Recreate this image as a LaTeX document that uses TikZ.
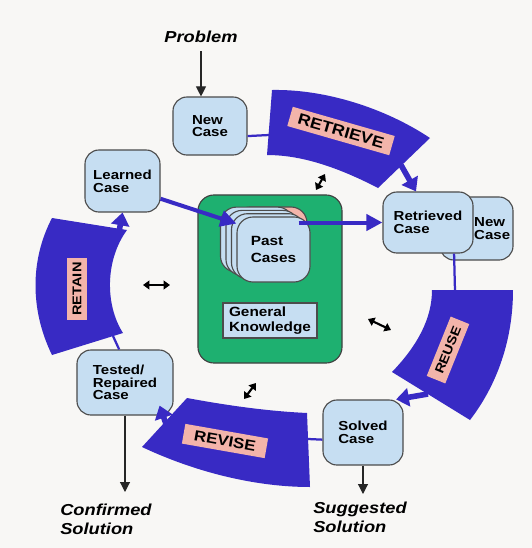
\documentclass[tikz,border=0pt]{standalone}
\usepackage{fontspec}
\setmainfont{Liberation Sans}[FakeStretch=1.15]
\usetikzlibrary{arrows.meta}

\definecolor{paper}{RGB}{248,247,245}
\definecolor{bandblue}{RGB}{56,42,196}
\definecolor{caseblue}{RGB}{198,222,242}
\definecolor{kbgreen}{RGB}{30,176,112}
\definecolor{labelpink}{RGB}{243,180,170}

\begin{document}
\begin{tikzpicture}[
  x=0.025cm, y=-0.025cm,
  casebox/.style={draw=black!70, line width=0.8pt, fill=caseblue, rounded corners=0.35cm,
    align=left, inner sep=0pt, font=\fontsize{9.3}{9}\selectfont\bfseries},
  band/.style={fill=bandblue},
  bandline/.style={draw=bandblue, line width=1.6pt},
  bandarrow/.style={bandblue, line width=0.14cm, -{Triangle[length=0.32cm,width=0.45cm]}},
  blueline/.style={bandblue, line width=0.1cm, -{Triangle[length=0.4cm,width=0.4cm]}},
  steplabel/.style={fill=labelpink, inner sep=1pt, minimum height=0.5cm, font=\bfseries},
  outtext/.style={align=left, inner sep=0pt, font=\fontsize{11.3}{13.5}\selectfont\bfseries\itshape},
  outarrow/.style={black!85, line width=0.8pt, -{Triangle[length=0.25cm,width=0.25cm]}},
  twoway/.style={line width=1.5pt, {Triangle[length=0.16cm,width=0.22cm]}-{Triangle[length=0.16cm,width=0.22cm]}}
]
  \fill[paper] (0,0) rectangle (532,548);

  % the four steps of the cycle
  \fill[band] (272,90) .. controls (325,89) and (385,108) .. (430,138) -- (378,188)
    .. controls (330,163) and (295,155) .. (267,155) -- cycle;
  \fill[band] (432,290) -- (513,290) .. controls (513,340) and (497,385) .. (470,420) -- (392,372)
    .. controls (418,345) and (432,318) .. (432,290) -- cycle;
  \fill[band] (307,413) -- (310,487) .. controls (255,487) and (195,472) .. (142,447) -- (187,398)
    .. controls (225,405) and (265,411) .. (307,413) -- cycle;
  \fill[band] (52,355) .. controls (30,310) and (30,260) .. (52,218) -- (127,230)
    .. controls (105,260) and (105,305) .. (123,333) -- cycle;

  % knowledge base
  \node[draw=black!75, line width=0.8pt, fill=kbgreen, rounded corners=0.4cm,
    minimum width=3.6cm, minimum height=4.2cm] (know) at (270,279) {};
  \node[casebox, fill=labelpink, rounded corners=0.4cm, minimum width=1.825cm, minimum height=1.625cm]
    (past4) at (270.5,239.5) {};
  \foreach \k in {3,2,1} {
    \node[casebox, rounded corners=0.4cm, minimum width=1.825cm, minimum height=1.625cm]
      (past\k) at (273.5-5.5*\k, 249.5-3.3*\k) {};
  }
  \node[casebox, rounded corners=0.4cm, minimum width=1.825cm, minimum height=1.625cm,
    font=\fontsize{9.5}{12}\selectfont\bfseries] (past) at (273.5,249.5) {Past\\Cases};
  \node[draw=black!70, line width=0.8pt, fill=caseblue, minimum width=2.35cm, minimum height=0.875cm,
    align=left, inner sep=0pt, font=\fontsize{9.5}{10.5}\selectfont\bfseries] (general) at (270,320.5) {General\\Knowledge};

  % cases
  \node[casebox, minimum width=1.85cm, minimum height=1.45cm] (newcase) at (210,126) {New\\Case};
  \node[casebox, minimum width=1.875cm, minimum height=1.55cm] (learned) at (122.5,181) {Learned\\Case};
  \node[casebox, minimum width=1.825cm, minimum height=1.575cm] (retrnew) at (476.5,228.5) {};
  \node[casebox, anchor=east, draw=none, fill=none] at ([xshift=-2pt]retrnew.east) {New\\Case};
  \node[casebox, minimum width=2.25cm, minimum height=1.525cm] (retrieved) at (428,222.5) {Retrieved\\Case};
  \node[casebox, minimum width=2.4cm, minimum height=1.625cm] (tested) at (125,382.5) {Tested/\\Repaired\\Case};
  \node[casebox, minimum width=2.0cm, minimum height=1.625cm] (solved) at (363,432.5) {Solved\\Case};

  % lines into and out of the steps
  \coordinate (retrin) at (269,135);
  \coordinate (reusein) at (455,291);
  \coordinate (revisein) at (308,439);
  \coordinate (retainin) at (113,336);
  \coordinate (retrout) at (401,165);
  \coordinate (reuseout) at (428,394);
  \coordinate (reviseout) at (166,424);
  \coordinate (retainout) at (119,232);
  \draw[bandline] (newcase.-15) -- (retrin);
  \draw[bandline] (retrieved.-50) -- (reusein);
  \draw[bandline] (solved.190) -- (revisein);
  \draw[bandline] (tested.100) -- (retainin);
  \draw[bandarrow] (retrout) -- ([xshift=-0.3cm]retrieved.north);
  \draw[bandarrow] (reuseout) -- (solved.45);
  \draw[bandarrow] (reviseout) -- ([shift={(-14,-10)}]tested.south east);
  \draw[bandarrow] (retainout) -- (learned.south);
  \draw[blueline] (learned.-25) -- (past.145);
  \draw[blueline, shorten <=-0.3cm] (past.east |- retrieved.west) -- (retrieved.west);

  % step labels
  \node[steplabel, rotate=-16, minimum width=2.65cm, font=\fontsize{11}{11}\selectfont\bfseries] at (341,131) {RETRIEVE};
  \node[steplabel, rotate=68, minimum width=1.6cm, font=\fontsize{9}{9}\selectfont\bfseries] at (448,350) {REUSE};
  \node[steplabel, rotate=-10, minimum width=2.1cm, font=\fontsize{10.5}{10.5}\selectfont\bfseries] at (225,441) {REVISE};
  \node[steplabel, rotate=90, minimum width=1.55cm, font=\fontsize{9}{9}\selectfont\bfseries] at (77,289) {RETAIN};

  % input and outputs
  \node[outtext] (problem) at (201,37) {Problem};
  \node[outtext, anchor=north west] (confirm) at (60,504) {Confirmed\\Solution};
  \node[outtext, anchor=north west] (suggest) at (313,502) {Suggested\\Solution};
  \draw[outarrow] ([yshift=-0.2cm]problem.south) -- (problem.south |- newcase.north);
  \draw[outarrow, shorten >=0.3cm] (tested.south) -- (tested.south |- confirm.north);
  \draw[outarrow, shorten >=0.2cm] (solved.south) -- (solved.south |- suggest.north);

  % two-way arrows round the knowledge base
  \foreach \a/\b/\c/\d in {316/190/325/174, 143/285/170/285, 368/319/391/330, 256/383/244/399} {
    \draw[twoway] (\a,\b) -- (\c,\d);
  }
\end{tikzpicture}
\end{document}
